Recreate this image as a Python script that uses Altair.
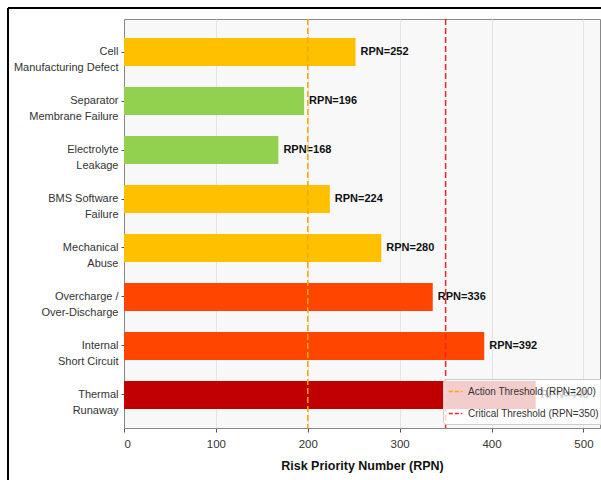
import altair as alt
import pandas as pd

categories = [
    "Cell\nManufacturing Defect",
    "Separator\nMembrane Failure",
    "Electrolyte\nLeakage",
    "BMS Software\nFailure",
    "Mechanical\nAbuse",
    "Overcharge /\nOver-Discharge",
    "Internal\nShort Circuit",
    "Thermal\nRunaway",
]
rpn = [252, 196, 168, 224, 280, 336, 392, 448]
bar_colors = ["#FFC000", "#92D050", "#92D050", "#FFC000", "#FFC000", "#FF4500", "#FF4500", "#C00000"]

threshold_names = ["Action Threshold (RPN=200)", "Critical Threshold (RPN=350)"]
threshold_values = [200, 350]
threshold_colors = ["#FFA500", "#FF2020"]

FONT = "Liberation Sans"

df = pd.DataFrame({
    "cat": categories,
    "rpn": rpn,
    "color": bar_colors,
    "label": [f"RPN={v}" for v in rpn],
})
thr = pd.DataFrame({"name": threshold_names, "value": threshold_values})

xscale = alt.Scale(domain=[0, 518], nice=False, zero=True)
yscale = alt.Scale(paddingInner=0.43, paddingOuter=0.39)

base = alt.Chart(df)

bars = base.mark_bar().encode(
    y=alt.Y("cat:N", sort=categories, scale=yscale, title=None,
            axis=alt.Axis(labelExpr="split(datum.label, '\\n')", labelFontSize=11,
                          labelColor="#333", labelFont=FONT, tickSize=3, tickColor="#555",
                          labelLineHeight=16, domainColor="#888", labelPadding=3, grid=False)),
    x=alt.X("rpn:Q", scale=xscale, title="Risk Priority Number (RPN)",
            axis=alt.Axis(values=[0, 100, 200, 300, 400, 500], labelFontSize=11.5, labelColor="#333",
                          labelFont=FONT, titleFont=FONT, titleFontSize=12.5, titleFontWeight="bold",
                          titleColor="#111", tickSize=4, tickColor="#555", domainColor="#888",
                          grid=True, gridColor="#e4e4e4", titlePadding=10, labelPadding=6)),
    color=alt.Color("color:N", scale=None),
)

texts = base.mark_text(align="left", baseline="middle", dx=5, fontWeight="bold",
                       fontSize=11, font=FONT, color="#111").encode(
    y=alt.Y("cat:N", sort=categories, scale=yscale),
    x=alt.X("rpn:Q", scale=xscale),
    text="label:N",
)

rules = alt.Chart(thr).mark_rule(strokeDash=[6, 3], strokeWidth=1.5).encode(
    x=alt.X("value:Q", scale=xscale),
    color=alt.Color("name:N", scale=alt.Scale(domain=threshold_names, range=threshold_colors),
                    legend=alt.Legend(title=None, orient="none", legendX=319, legendY=360,
                                      symbolType="stroke", symbolDash=[4, 2], symbolStrokeWidth=1.5,
                                      symbolSize=180, labelFontSize=10, labelFont=FONT,
                                      labelColor="#333", fillColor="rgba(255,255,255,0.8)",
                                      strokeColor="#cccccc", cornerRadius=3, padding=5,
                                      rowPadding=9, labelOffset=5)),
)

frame_top = alt.Chart(alt.Data(values=[{}])).mark_rule(color="#000", strokeWidth=2).encode(
    x=alt.value(-116), x2=alt.value(480), y=alt.value(-11))
frame_left = alt.Chart(alt.Data(values=[{}])).mark_rule(color="#000", strokeWidth=2).encode(
    x=alt.value(-116), y=alt.value(-11), y2=alt.value(470))

chart = alt.layer(bars, texts, rules, frame_top, frame_left).resolve_scale(color="independent").properties(
    width=476, height=409,
    autosize=alt.AutoSizeParams(type="none"),
    padding={"left": 124, "top": 19, "right": 1, "bottom": 52},
    background="white",
).configure_view(fill="#f8f8f8", stroke="#888", strokeWidth=1)

chart.save("out.html", embed_options={"renderer": "svg", "actions": False})
